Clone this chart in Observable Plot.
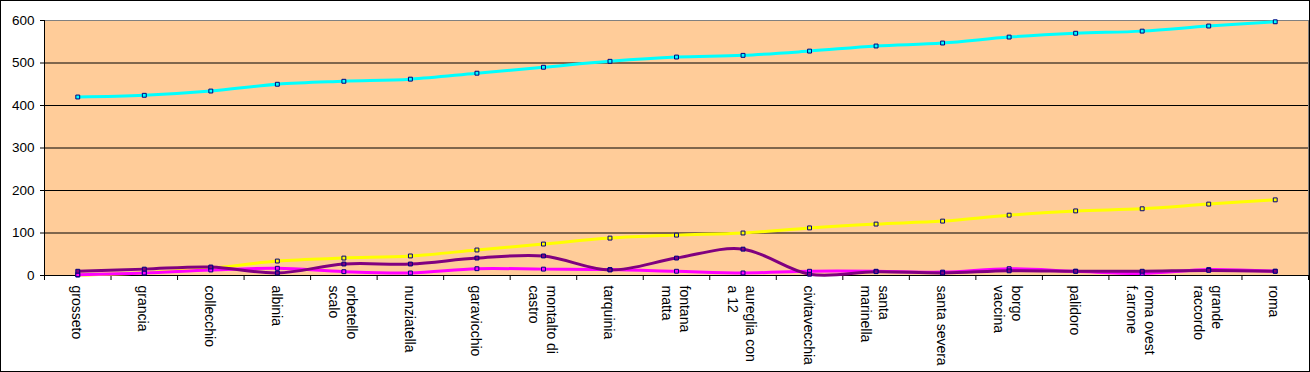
<!DOCTYPE html>
<html><head><meta charset="utf-8">
<script src="https://cdn.jsdelivr.net/npm/d3@7"></script>
<script src="https://cdn.jsdelivr.net/npm/@observablehq/plot@0.6"></script>
<style>
body{margin:0;background:#fff;}
#chart svg{display:block; outline:1px solid #000; outline-offset:-1px; background:#fff;}
</style></head><body><div id="chart"></div>
<script>
const stations = ["grosseto","grancia","collecchio","albinia","orbetello\nscalo","nunziatella","garavicchio","montalto di\ncastro","tarquinia","fontana\nmatta","aureglia con\na 12","civitavecchia","santa\nmarinella","santa severa","borgo\nvaccina","palidoro","roma ovest\nf.arrone","grande\nraccordo","roma"];
const cyanValues = [420,424,434,450,457,462,476,490,504,514,518,528,540,547,561,570,575,587,597];
const yellowValues = [1,6,17,34,41,46,60,74,88,95,100,112,121,128,142,152,157,168,178];
const magentaValues = [2,6,13,17,9,6,16,15,14,10,6,10,10,8,16,10,5,14,10];
const purpleValues = [10,15,20,6,27,27,41,46,13,41,62,3,9,6,11,10,10,12,10];
const yTicks = [0,100,200,300,400,500,600];

const series = [
  {values: cyanValues, color: "#00FFFF"},
  {values: yellowValues, color: "#FFFF00"},
  {values: magentaValues, color: "#FF00FF"},
  {values: purpleValues, color: "#800080"}
];
const idx = d3.range(stations.length);
const bounds = d3.range(stations.length + 1).map(i => i - 0.5);

const marks = [
  Plot.frame({fill: "#FFCC99", stroke: "#808080"}),
  Plot.gridY(yTicks.filter(v => v > 0 && v < 600), {stroke: "#000", strokeOpacity: 1}),
  Plot.ruleY([0], {stroke: "#000"}),
  Plot.ruleX([-0.5], {stroke: "#000"}),
  Plot.axisY({ticks: yTicks, tickSize: 4, tickPadding: 6, label: null, fontSize: 13.5, tickFormat: d => String(d)}),
  Plot.axisX({ticks: bounds, tickSize: 5, tickFormat: () => "", label: null}),
  Plot.axisX({ticks: idx, tickSize: 0, tickRotate: 90, tickPadding: 10, fontSize: 14, lineHeight: 1.3, lineAnchor: "middle", tickFormat: i => stations[i], label: null})
];
for (const s of series) {
  const rows = idx.map(i => ({i, v: s.values[i]}));
  marks.push(Plot.line(rows, {x: "i", y: "v", stroke: s.color, strokeWidth: 3, curve: "cardinal"}));
}
for (const s of series) {
  const rows = idx.map(i => ({i, v: s.values[i]}));
  marks.push(Plot.dot(rows, {x: "i", y: "v", symbol: "square", r: 2.2, fill: s.color, stroke: "#000080", strokeWidth: 1}));
}

const chart = Plot.plot({
  width: 1310, height: 372,
  marginLeft: 44, marginRight: 2, marginTop: 20, marginBottom: 97,
  x: {type: "linear", domain: [-0.5, stations.length - 0.5]},
  y: {domain: [0, 600]},
  style: {fontFamily: "'Liberation Sans', Arial, sans-serif", fontSize: "13px", color: "#000", background: "#fff"},
  marks
});
document.getElementById("chart").appendChild(chart);
</script></body></html>
